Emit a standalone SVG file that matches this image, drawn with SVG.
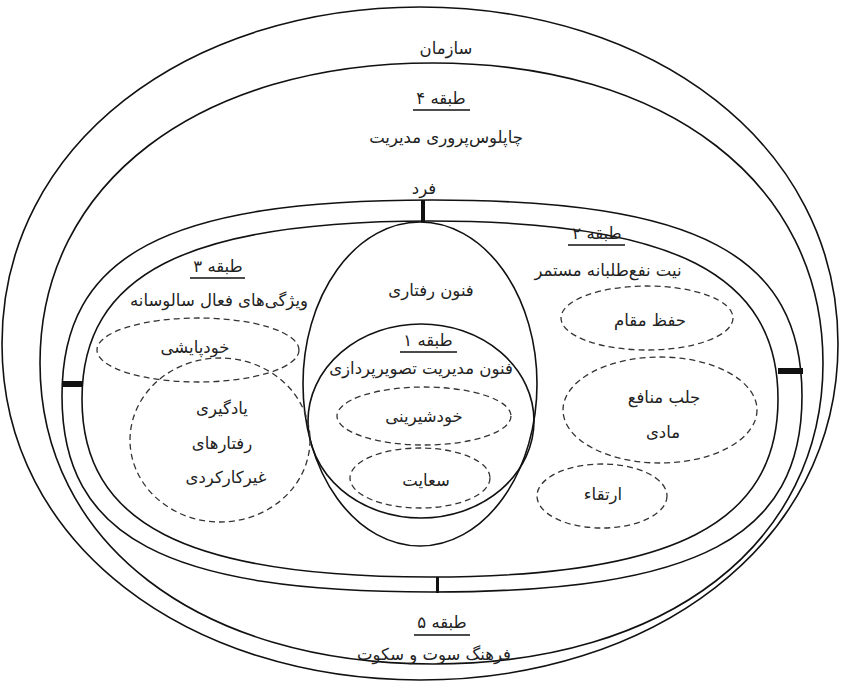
<svg xmlns="http://www.w3.org/2000/svg" width="841" height="684" viewBox="0 0 841 684">
<style>
.ring{fill:none;stroke:#111;stroke-width:1.6}
.dash{fill:none;stroke:#333;stroke-width:1.3;stroke-dasharray:6 4}
.t{font-family:"DejaVu Sans","Noto Sans",sans-serif;font-size:16.5px;fill:#222;text-anchor:middle;direction:rtl}
.ul{stroke:#111;stroke-width:1.5}
.tick{fill:#111}
</style>
<rect width="841" height="684" fill="#fff"/>
<g id="org">
<path class="ring" d="M838,344 C838,545.6 650,680 420,680 C190,680 2,545.6 2,344 C2,142.4 190,7 420,7 C650,7 838,142.4 838,344 Z"/>
<text class="t" x="446" y="54">سازمان</text>
</g>
<g id="layer4">
<path class="ring" d="M823,363 C823,543 667,664 433,664 C199,664 40,543 40,363 C40,183 199,63 433,63 C667,63 823,183 823,363 Z"/>
<text class="t" x="441" y="104">طبقه ۴</text>
<line class="ul" x1="413" y1="110" x2="470" y2="110"/>
<text class="t" x="446" y="143">چاپلوس‌پروری مدیریت</text>
</g>
<g id="layer5">
<text class="t" x="442" y="628">طبقه ۵</text>
<line class="ul" x1="414" y1="635" x2="470" y2="635"/>
<text class="t" x="434" y="660">فرهنگ سوت و سکوت</text>
</g>
<g id="individual-outer">
<path class="ring" d="M802,396 C802,537.1 698.4,592 432,592 C165.6,592 62,537.1 62,396 C62,254.9 165.6,200 432,200 C698.4,200 802,254.9 802,396 Z"/>
<text class="t" x="424" y="194">فرد</text>
</g>
<g id="individual-inner">
<path class="ring" d="M778,399 C778,523.6 673.6,577 430,577 C186.4,577 82,523.6 82,399 C82,274.4 186.4,221 430,221 C673.6,221 778,274.4 778,399 Z"/>
</g>
<g id="layer2">
<text class="t" x="597" y="239">طبقه ۲</text>
<line class="ul" x1="568" y1="245" x2="625" y2="245"/>
<text class="t" x="608" y="276">نیت نفع‌طلبانه مستمر</text>
</g>
<g id="layer3">
<text class="t" x="218" y="272">طبقه ۳</text>
<line class="ul" x1="190" y1="278" x2="245" y2="278"/>
<text class="t" x="219" y="306">ویژگی‌های فعال سالوسانه</text>
</g>
<g id="behavioral">
<ellipse class="ring" cx="420" cy="384" rx="117" ry="162"/>
<text class="t" x="431" y="296">فنون رفتاری</text>
</g>
<g id="layer1">
<ellipse class="ring" cx="421" cy="421" rx="113" ry="97"/>
<text class="t" x="428" y="346">طبقه ۱</text>
<line class="ul" x1="400" y1="352" x2="457" y2="352"/>
<text class="t" x="421" y="374">فنون مدیریت تصویرپردازی</text>
</g>
<g id="khodshirini">
<ellipse class="dash" cx="424" cy="416" rx="87" ry="29"/>
<text class="t" x="424" y="422">خودشیرینی</text>
</g>
<g id="saayat">
<ellipse class="dash" cx="420" cy="478" rx="70" ry="30"/>
<text class="t" x="426" y="486">سعایت</text>
</g>
<g id="khodpayeshi">
<ellipse class="dash" cx="198" cy="350" rx="101" ry="32"/>
<text class="t" x="195" y="353">خودپایشی</text>
</g>
<g id="learning">
<ellipse class="dash" cx="220" cy="440" rx="90" ry="82"/>
<text class="t" x="222" y="414">یادگیری</text>
<text class="t" x="222" y="449">رفتارهای</text>
<text class="t" x="226" y="483">غیرکارکردی</text>
</g>
<g id="hefz">
<ellipse class="dash" cx="647" cy="318" rx="86" ry="32"/>
<text class="t" x="650" y="326">حفظ مقام</text>
</g>
<g id="jalb">
<ellipse class="dash" cx="660" cy="410" rx="97" ry="53"/>
<text class="t" x="664" y="403">جلب منافع</text>
<text class="t" x="663" y="438">مادی</text>
</g>
<g id="ertegha">
<ellipse class="dash" cx="602" cy="496" rx="65" ry="32"/>
<text class="t" x="603" y="500">ارتقاء</text>
</g>
<g id="connectors">
<rect class="tick" x="421" y="200" width="4" height="22"/>
<rect class="tick" x="62" y="381" width="20" height="6"/>
<rect class="tick" x="778" y="368" width="25" height="6"/>
<rect class="tick" x="436" y="577" width="3" height="16"/>
</g>
</svg>
